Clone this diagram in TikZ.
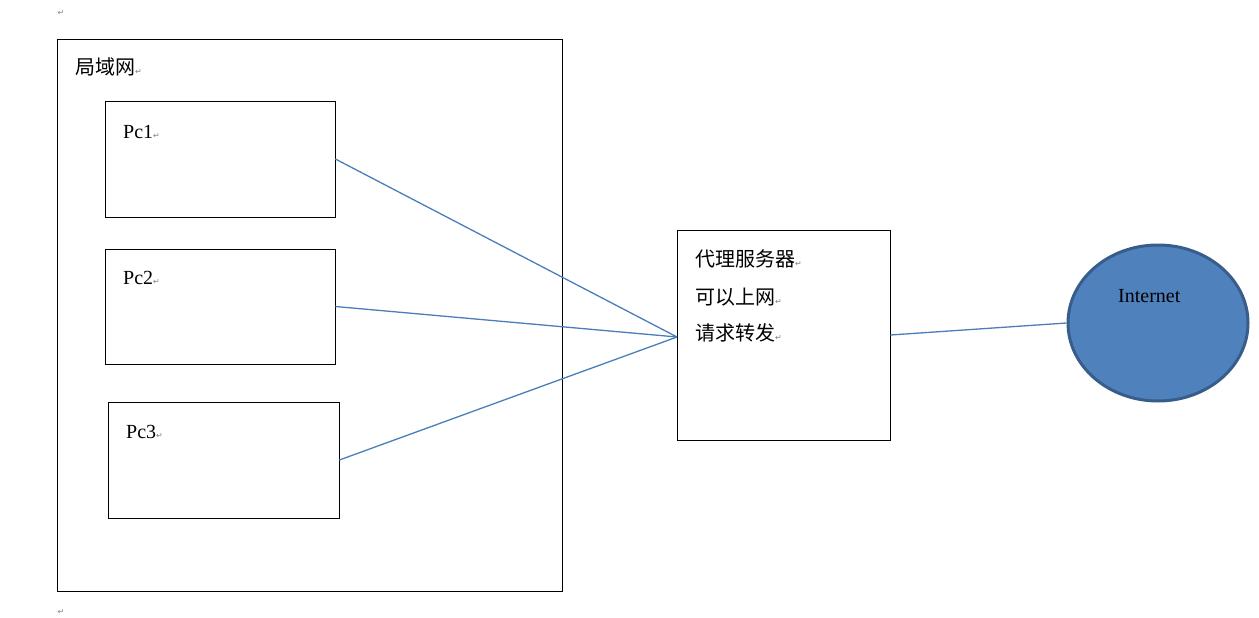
\documentclass[tikz,border=0pt]{standalone}
\usepackage{fontspec}
\setmainfont{Liberation Serif}
\newfontfamily\cjk{Noto Sans CJK SC}
\newfontfamily\symf{DejaVu Sans}
\usetikzlibrary{shapes.geometric}
\definecolor{linkc}{HTML}{4A7EBB}
\definecolor{inetfill}{HTML}{4F81BD}
\definecolor{inetdraw}{HTML}{385D8A}
\newcommand{\pmark}{{\symf\fontsize{8}{8}\selectfont\textcolor{gray}{↵}}}
\begin{document}
\begin{tikzpicture}[x=1pt,y=-1pt,
  box/.style={draw=black,line width=0.8pt},
  lbl/.style={anchor=west,inner sep=0pt,font=\fontsize{20}{24}\selectfont},
  link/.style={draw=linkc,line width=1.3pt}]
\useasboundingbox (0,0) rectangle (1259,618);
\draw[box] (57,39) rectangle (562,591);
\node[lbl] (lan) at (75,67) {\cjk 局域网\pmark};
\node[box,minimum width=230pt,minimum height=116pt,inner sep=0pt] (pc1) at (220,159) {};
\node[box,minimum width=230pt,minimum height=115pt,inner sep=0pt] (pc2) at (220,306.5) {};
\node[box,minimum width=231pt,minimum height=116pt,inner sep=0pt] (pc3) at (223.5,460) {};
\node[lbl] (t1) at (123,132) {Pc1\pmark};
\node[lbl] (t2) at (123,278) {Pc2\pmark};
\node[lbl] (t3) at (126,432) {Pc3\pmark};
\node[box,minimum width=213pt,minimum height=210pt,inner sep=0pt] (proxy) at (783.5,335) {};
\node[lbl] (p1) at (695,259) {\cjk 代理服务器\pmark};
\node[lbl] (p2) at (695,297) {\cjk 可以上网\pmark};
\node[lbl] (p3) at (695,333) {\cjk 请求转发\pmark};
\node[ellipse,fill=inetfill,draw=inetdraw,line width=3pt,minimum width=180pt,minimum height=156pt,inner sep=0pt] (inet) at (1158,323) {};
\node[lbl] (it) at (1118,296) {Internet};
\coordinate (hub) at (677,337);
\node[inner sep=0pt] (m1) at (61,13) {\pmark};
\node[inner sep=0pt] (m2) at (61,612) {\pmark};
\draw[link] (pc1.east) -- (hub);
\draw[link] (pc2.east) -- (hub);
\draw[link] (pc3.east) -- (hub);
\draw[link] (proxy.east) -- (inet.west);
\end{tikzpicture}
\end{document}
